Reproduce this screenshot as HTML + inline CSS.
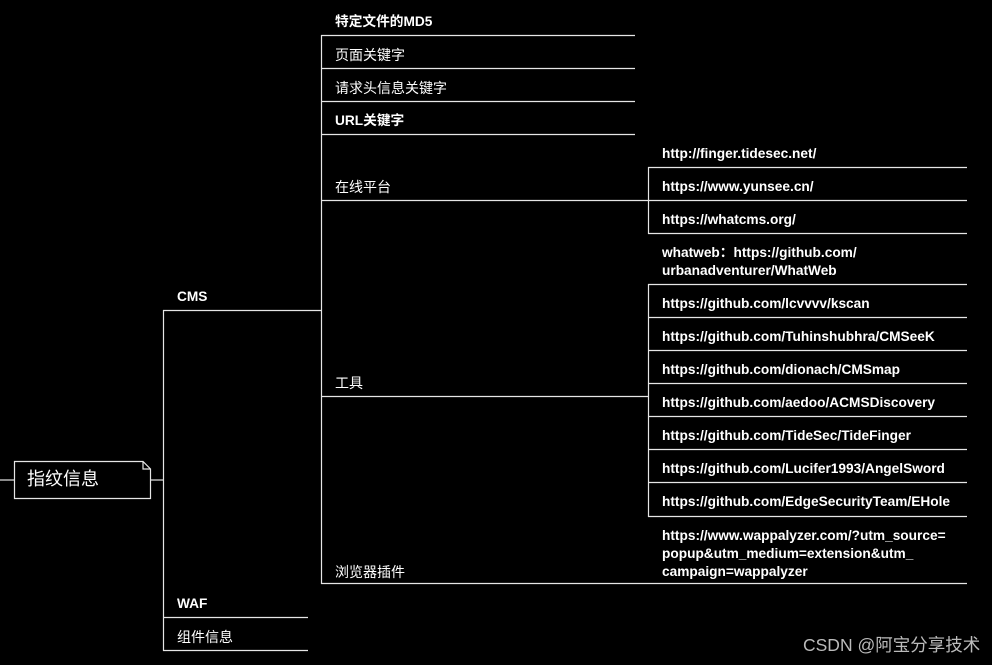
<!DOCTYPE html>
<html><head><meta charset="utf-8"><style>
body{margin:0;width:992px;height:665px;background:#000;overflow:hidden;position:relative;font-family:"Liberation Sans","Noto Sans CJK SC",sans-serif;color:#fff}
.t{position:absolute;font-size:13.7px;font-weight:bold;line-height:18px;white-space:nowrap}
.c{font-weight:normal;font-size:14px}
svg{position:absolute;left:0;top:0}
</style></head><body>
<svg width="992" height="665" stroke="#e6e6e6" stroke-width="1.2" fill="none">
<line x1="0" y1="480" x2="14" y2="480"/>
<path d="M14.5 461.5 H143 L150.5 469 V498.5 H14.5 Z"/>
<path d="M143 461.5 V469 H150.5"/>
<line x1="150" y1="480" x2="163" y2="480"/>
<line x1="163.5" y1="310" x2="163.5" y2="651"/>
<line x1="163" y1="310.5" x2="321" y2="310.5"/>
<line x1="163" y1="617.5" x2="308" y2="617.5"/>
<line x1="163" y1="650.5" x2="308" y2="650.5"/>
<line x1="321.5" y1="35" x2="321.5" y2="584"/>
<line x1="321" y1="35.5" x2="635" y2="35.5"/>
<line x1="321" y1="68.5" x2="635" y2="68.5"/>
<line x1="321" y1="101.5" x2="635" y2="101.5"/>
<line x1="321" y1="134.5" x2="635" y2="134.5"/>
<line x1="321" y1="200.5" x2="648" y2="200.5"/>
<line x1="321" y1="396.5" x2="648" y2="396.5"/>
<line x1="321" y1="583.5" x2="967" y2="583.5"/>
<line x1="648.5" y1="167" x2="648.5" y2="234"/>
<line x1="648" y1="167.5" x2="967" y2="167.5"/>
<line x1="648" y1="200.5" x2="967" y2="200.5"/>
<line x1="648" y1="233.5" x2="967" y2="233.5"/>
<line x1="648.5" y1="284" x2="648.5" y2="517"/>
<line x1="648" y1="284.5" x2="967" y2="284.5"/>
<line x1="648" y1="317.5" x2="967" y2="317.5"/>
<line x1="648" y1="350.5" x2="967" y2="350.5"/>
<line x1="648" y1="383.5" x2="967" y2="383.5"/>
<line x1="648" y1="416.5" x2="967" y2="416.5"/>
<line x1="648" y1="449.5" x2="967" y2="449.5"/>
<line x1="648" y1="482.5" x2="967" y2="482.5"/>
<line x1="648" y1="516.5" x2="967" y2="516.5"/>
</svg>
<div class="t" style="left:27px;top:468px;font-size:18px;line-height:22px;font-weight:normal">指纹信息</div>
<div class="t" style="left:177px;top:288px">CMS</div>
<div class="t" style="left:177px;top:595px">WAF</div>
<div class="t c" style="left:177px;top:628px">组件信息</div>
<div class="t" style="left:335px;top:13px">特定文件的MD5</div>
<div class="t c" style="left:335px;top:46px">页面关键字</div>
<div class="t c" style="left:335px;top:79px">请求头信息关键字</div>
<div class="t" style="left:335px;top:112px">URL关键字</div>
<div class="t c" style="left:335px;top:178px">在线平台</div>
<div class="t c" style="left:335px;top:374px">工具</div>
<div class="t c" style="left:335px;top:563px">浏览器插件</div>
<div class="t" style="left:662px;top:145px">http://finger.tidesec.net/</div>
<div class="t" style="left:662px;top:178px">https://www.yunsee.cn/</div>
<div class="t" style="left:662px;top:211px">https://whatcms.org/</div>
<div class="t" style="left:662px;top:244px">whatweb：https://github.com/<br>urbanadventurer/WhatWeb</div>
<div class="t" style="left:662px;top:295px">https://github.com/lcvvvv/kscan</div>
<div class="t" style="left:662px;top:328px">https://github.com/Tuhinshubhra/CMSeeK</div>
<div class="t" style="left:662px;top:361px">https://github.com/dionach/CMSmap</div>
<div class="t" style="left:662px;top:394px">https://github.com/aedoo/ACMSDiscovery</div>
<div class="t" style="left:662px;top:427px">https://github.com/TideSec/TideFinger</div>
<div class="t" style="left:662px;top:460px">https://github.com/Lucifer1993/AngelSword</div>
<div class="t" style="left:662px;top:493px">https://github.com/EdgeSecurityTeam/EHole</div>
<div class="t" style="left:662px;top:527px">https://www.wappalyzer.com/?utm_source=<br>popup&amp;utm_medium=extension&amp;utm_<br>campaign=wappalyzer</div>
<div class="t" style="left:803px;top:635px;font-size:17.5px;line-height:20px;color:#bbb;font-weight:normal">CSDN @阿宝分享技术</div>
</body></html>
